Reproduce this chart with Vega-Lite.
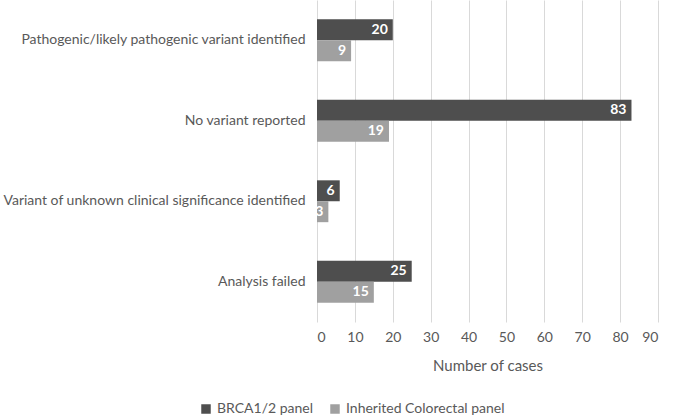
{
  "$schema": "https://vega.github.io/schema/vega-lite/v6.json",
  "width": 341,
  "height": 322,
  "padding": {"left": 2, "top": 0, "right": 5, "bottom": 5},
  "background": "white",
  "config": {
    "font": "Lato",
    "view": {"stroke": null},
    "axis": {"labelColor": "#595959", "titleColor": "#595959", "labelFontSize": 14, "titleFontSize": 15, "titleFontWeight": "normal"}
  },
  "data": {
    "values": [
      {"category": "Pathogenic/likely pathogenic variant identified", "panel": "BRCA1/2 panel", "cases": 20},
      {"category": "Pathogenic/likely pathogenic variant identified", "panel": "Inherited Colorectal panel", "cases": 9},
      {"category": "No variant reported", "panel": "BRCA1/2 panel", "cases": 83},
      {"category": "No variant reported", "panel": "Inherited Colorectal panel", "cases": 19},
      {"category": "Variant of unknown clinical significance identified", "panel": "BRCA1/2 panel", "cases": 6},
      {"category": "Variant of unknown clinical significance identified", "panel": "Inherited Colorectal panel", "cases": 3},
      {"category": "Analysis failed", "panel": "BRCA1/2 panel", "cases": 25},
      {"category": "Analysis failed", "panel": "Inherited Colorectal panel", "cases": 15}
    ]
  },
  "encoding": {
    "y": {
      "field": "category", "type": "nominal", "sort": null, "title": null,
      "scale": {"paddingInner": 0.48, "paddingOuter": 0.24},
      "axis": {"domain": false, "ticks": false, "labelPadding": 12, "labelLimit": 400}
    },
    "yOffset": {"field": "panel", "type": "nominal", "sort": ["BRCA1/2 panel", "Inherited Colorectal panel"]},
    "x": {
      "field": "cases", "type": "quantitative", "title": "Number of cases",
      "scale": {"domain": [0, 90]},
      "axis": {"values": [0,10,20,30,40,50,60,70,80,90], "domain": false, "ticks": false, "grid": true, "gridColor": "#d9d9d9", "labelPadding": 8, "titlePadding": 14}
    }
  },
  "layer": [
    {
      "mark": {"type": "bar"},
      "encoding": {
        "color": {
          "field": "panel", "type": "nominal",
          "scale": {"domain": ["BRCA1/2 panel", "Inherited Colorectal panel"], "range": ["#4e4e4e", "#a0a0a0"]},
          "legend": {"title": null, "orient": "none", "direction": "horizontal", "legendX": -118, "legendY": 402, "symbolType": "square", "symbolSize": 90, "labelFontSize": 14, "labelColor": "#595959", "columnPadding": 14, "symbolOffset": 0, "labelOffset": 4}
        }
      }
    },
    {
      "mark": {"type": "text", "align": "right", "dx": -5, "color": "white", "fontWeight": "bold", "fontSize": 14},
      "encoding": {"text": {"field": "cases", "type": "quantitative"}}
    }
  ]
}
